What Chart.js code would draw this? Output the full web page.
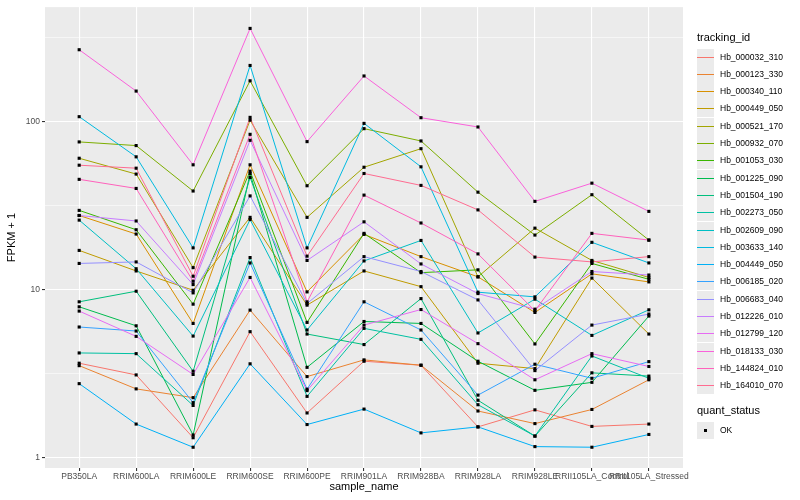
<!DOCTYPE html>
<html>
<head>
<meta charset="utf-8">
<script src="https://cdn.jsdelivr.net/npm/chart.js@4.4.0/dist/chart.umd.min.js"></script>
<style>
  body { margin: 0; width: 800px; height: 500px; background: #fff; overflow: hidden;
         font-family: "Liberation Sans", Arial, sans-serif; }
  #wrap { position: absolute; left: 0; top: 0; width: 690px; height: 500px; }
  #legend { position: absolute; left: 0; top: 0; width: 800px; height: 500px; pointer-events: none; }
  .ltitle { position: absolute; left: 697px; font-size: 11px; color: #000; }
  .lkey { position: absolute; left: 697px; width: 17px; height: 17px; background: #EBEBEB; }
  .lline { position: absolute; left: 0; right: 0; top: 8px; height: 1px; }
  .ldot { position: absolute; left: 7px; top: 7px; width: 3px; height: 3px; background: #000; }
  .ltext { position: absolute; left: 720px; font-size: 8.5px; color: #000; line-height: 10px; }
</style>
</head>
<body>
<div id="wrap"><canvas id="chart"></canvas></div>
<div id="legend"></div>
<script>
// categories on the x axis
const categories = ['PB350LA', 'RRIM600LA', 'RRIM600LE', 'RRIM600SE', 'RRIM600PE', 'RRIM901LA',
    'RRIM928BA', 'RRIM928LA', 'RRIM928LE', 'RRII105LA_Control', 'RRII105LA_Stressed'];

// FPKM + 1 per tracking id
const Hb_000032_310 = [3.64, 3.1, 1.31, 5.61, 1.84, 3.74, 3.54, 1.52, 1.92, 1.53, 1.58];
const Hb_000123_330 = [3.52, 2.56, 2.27, 7.54, 3.03, 3.81, 3.54, 1.89, 1.59, 1.93, 2.90];
const Hb_000340_110 = [27.6, 21.4, 6.28, 55.3, 9.68, 21.3, 15.7, 11.9, 7.30, 12.4, 11.1];
const Hb_000449_050 = [17.1, 12.9, 9.9, 26.9, 8.07, 12.9, 10.4, 3.64, 3.38, 11.7, 5.43];
const Hb_000521_170 = [60.5, 48.7, 13.5, 102, 26.9, 53.5, 69, 11.9, 23.2, 14.9, 11.8];
const Hb_000932_070 = [75.7, 72, 38.6, 175, 41.5, 90.8, 76.7, 38.0, 21.1, 36.7, 19.7];
const Hb_001053_030 = [29.6, 22.7, 8.18, 50.7, 6.37, 21.6, 12.6, 13.1, 4.74, 14.3, 11.5];
const Hb_001225_090 = [7.89, 6.08, 1.36, 49.1, 3.44, 6.45, 6.28, 3.74, 2.51, 2.80, 6.95];
const Hb_001504_190 = [8.45, 9.77, 3.26, 46.5, 5.43, 4.70, 8.83, 2.19, 1.34, 3.19, 3.05];
const Hb_002273_050 = [4.19, 4.15, 2.04, 15.5, 2.31, 5.87, 5.05, 2.06, 1.34, 4.02, 2.96];
const Hb_002609_090 = [25.9, 13.3, 5.28, 26.1, 5.74, 14.8, 19.6, 5.51, 8.76, 5.33, 7.57];
const Hb_003633_140 = [107, 61.7, 17.7, 216, 17.7, 97.6, 53.8, 9.64, 9.04, 19.1, 14.4];
const Hb_004449_050 = [2.75, 1.58, 1.15, 3.61, 1.57, 1.94, 1.40, 1.52, 1.16, 1.15, 1.37];
const Hb_006185_020 = [5.98, 5.66, 2.12, 14.4, 2.55, 8.45, 5.74, 2.35, 3.59, 2.96, 3.72];
const Hb_006683_040 = [14.3, 14.6, 9.55, 36.1, 8.25, 15.7, 12.8, 8.67, 3.29, 6.14, 7.14];
const Hb_012226_010 = [27.6, 25.6, 10.7, 77.4, 14.9, 25.3, 14.2, 9.46, 7.64, 12.8, 12.2];
const Hb_012799_120 = [7.44, 5.26, 3.12, 11.8, 2.50, 6.14, 7.60, 4.76, 2.90, 4.15, 3.48];
const Hb_018133_030 = [268, 152, 55.3, 359, 76, 187, 105.5, 92.9, 33.5, 43, 29.2];
const Hb_144824_010 = [45.3, 40, 11.2, 84, 8.44, 36.5, 24.9, 16.3, 7.47, 21.6, 19.7];
const Hb_164010_070 = [55, 52.8, 12.0, 106, 15.8, 49.1, 41.7, 29.8, 15.6, 14.6, 15.7];

const seriesNames = ['Hb_000032_310', 'Hb_000123_330', 'Hb_000340_110', 'Hb_000449_050',
    'Hb_000521_170', 'Hb_000932_070', 'Hb_001053_030', 'Hb_001225_090', 'Hb_001504_190',
    'Hb_002273_050', 'Hb_002609_090', 'Hb_003633_140', 'Hb_004449_050', 'Hb_006185_020',
    'Hb_006683_040', 'Hb_012226_010', 'Hb_012799_120', 'Hb_018133_030', 'Hb_144824_010',
    'Hb_164010_070'];
const seriesValues = [Hb_000032_310, Hb_000123_330, Hb_000340_110, Hb_000449_050,
    Hb_000521_170, Hb_000932_070, Hb_001053_030, Hb_001225_090, Hb_001504_190,
    Hb_002273_050, Hb_002609_090, Hb_003633_140, Hb_004449_050, Hb_006185_020,
    Hb_006683_040, Hb_012226_010, Hb_012799_120, Hb_018133_030, Hb_144824_010,
    Hb_164010_070];
const seriesColors = ['#F8766D', '#EA8331', '#D89000', '#C09B00', '#A3A500', '#7CAE00',
    '#39B600', '#00BB4E', '#00BF7D', '#00C1A3', '#00BFC4', '#00BAE0', '#00B0F6', '#35A2FF',
    '#9590FF', '#C77CFF', '#E76BF3', '#FA62DB', '#FF62BC', '#FF6C91'];

// y grid: major decades and the minor lines between them
const yMajor = [1, 10, 100];
const yMinor = [Math.sqrt(10), Math.sqrt(1000), Math.sqrt(100000)];

Chart.defaults.font.family = '"Liberation Sans", Arial, sans-serif';

// grey panel behind the grid
const panelBg = {
    id: 'panelBg',
    beforeDraw(chart) {
        const { ctx, chartArea: a } = chart;
        ctx.save();
        ctx.fillStyle = '#EBEBEB';
        ctx.fillRect(a.left, a.top, a.right - a.left, a.bottom - a.top);
        ctx.restore();
    }
};

const lineSets = seriesNames.map((name, i) => ({
    type: 'line',
    label: name,
    data: seriesValues[i].map((v, j) => ({ x: j, y: v })),
    borderColor: seriesColors[i],
    borderWidth: 1,
    pointRadius: 0,
    fill: false,
    tension: 0,
    order: seriesNames.length - i
}));

const pointSet = {
    type: 'scatter',
    label: 'OK',
    data: seriesValues.flatMap(vals => vals.map((v, j) => ({ x: j, y: v }))),
    pointStyle: 'rect',
    pointRadius: 2.2,
    backgroundColor: '#000',
    borderWidth: 0,
    order: 0
};

const isMajor = v => yMajor.some(m => Math.abs(m - v) < 1e-6);

new Chart(document.getElementById('chart'), {
    type: 'line',
    data: { datasets: [...lineSets, pointSet] },
    plugins: [panelBg],
    options: {
        responsive: true,
        maintainAspectRatio: false,
        animation: false,
        layout: { padding: { top: 5, right: 2, bottom: 0, left: 0 } },
        plugins: { legend: { display: false }, tooltip: { enabled: false } },
        scales: {
            x: {
                type: 'linear',
                min: -0.6,
                max: 10.6,
                afterBuildTicks: axis => { axis.ticks = categories.map((c, i) => ({ value: i })); },
                afterFit: scale => { scale.height = 32; },
                border: { display: false },
                grid: { color: '#fff', lineWidth: 1.1, tickLength: 3, tickColor: '#333' },
                ticks: {
                    autoSkip: false, maxRotation: 0, minRotation: 0, padding: 1,
                    color: '#4D4D4D', font: { size: 8.5 },
                    callback: (v, i) => categories[i]
                },
                title: { display: true, text: 'sample_name', color: '#000',
                         font: { size: 11 }, padding: { top: 0, bottom: 6 } }
            },
            y: {
                type: 'logarithmic',
                min: Math.pow(10, -0.063),
                max: Math.pow(10, 2.682),
                afterBuildTicks: axis => {
                    axis.ticks = [...yMajor, ...yMinor].sort((a, b) => a - b).map(v => ({ value: v }));
                },
                afterFit: scale => { scale.width = 45; },
                border: { display: false },
                grid: {
                    color: '#fff',
                    lineWidth: c => isMajor(c.tick.value) ? 1.1 : 0.55,
                    tickLength: 3,
                    tickColor: c => isMajor(c.tick.value) ? '#333' : 'rgba(0,0,0,0)'
                },
                ticks: {
                    padding: 2, color: '#4D4D4D', font: { size: 8.5 },
                    callback: v => isMajor(v) ? String(v) : ''
                },
                title: { display: true, text: 'FPKM + 1', color: '#000',
                         font: { size: 11 }, padding: { top: 5, bottom: 0 } }
            }
        }
    }
});

// legends on the right
const legend = document.getElementById('legend');
function addEl(cls, style, text) {
    const el = document.createElement('div');
    el.className = cls;
    Object.assign(el.style, style);
    if (text) el.textContent = text;
    legend.appendChild(el);
    return el;
}
addEl('ltitle', { top: '31px' }, 'tracking_id');
seriesNames.forEach((name, i) => {
    const top = Math.round(48.5 + i * 17.3);
    const key = addEl('lkey', { top: top + 'px' });
    const ln = document.createElement('div');
    ln.className = 'lline';
    ln.style.background = seriesColors[i];
    key.appendChild(ln);
    addEl('ltext', { top: (top + 3) + 'px' }, name);
});
addEl('ltitle', { top: '404px' }, 'quant_status');
const okKey = addEl('lkey', { top: '422px' });
const dot = document.createElement('div');
dot.className = 'ldot';
okKey.appendChild(dot);
addEl('ltext', { top: '425px' }, 'OK');
</script>
</body>
</html>
